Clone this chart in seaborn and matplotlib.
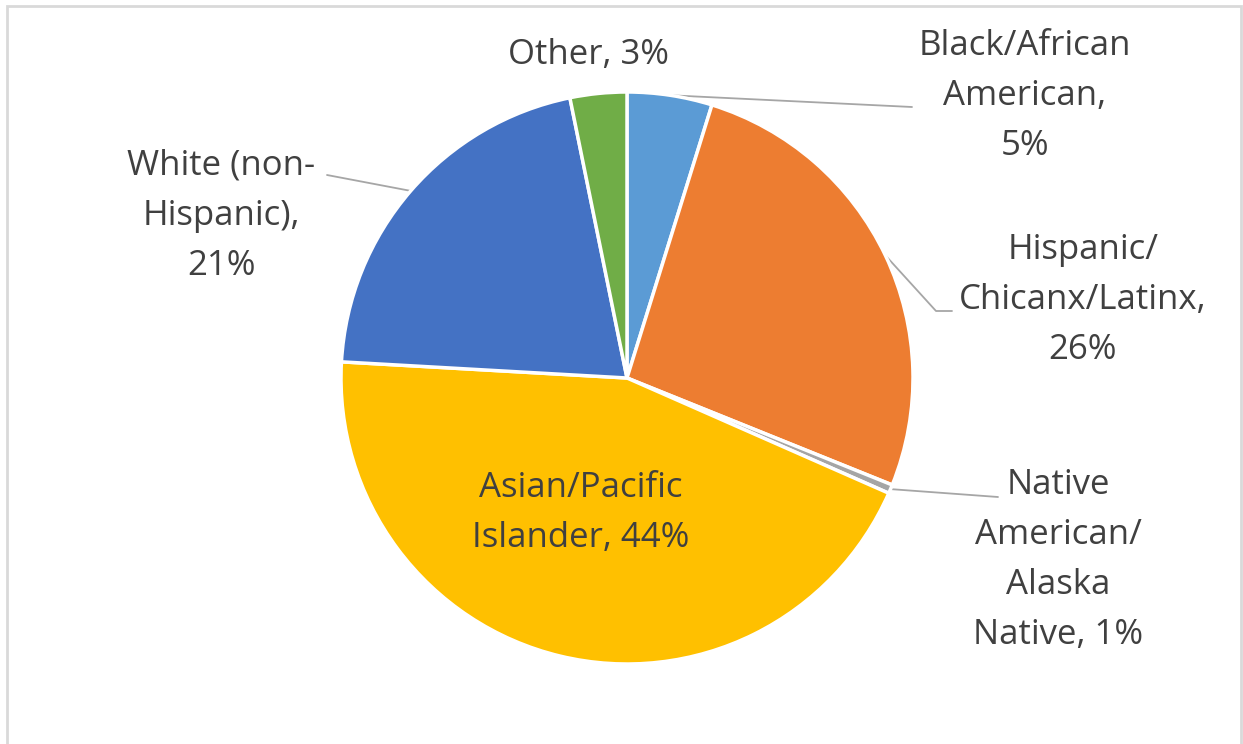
"""
Pie chart: student population by race/ethnicity.
"""

import numpy as np
import matplotlib.pyplot as plt
from matplotlib.patches import Rectangle
import seaborn as sns


# -----------------------------
# Data
# -----------------------------

GROUPS = [
    "Black/African American",
    "Hispanic/Chicanx/Latinx",
    "Native American/Alaska Native",
    "Asian/Pacific Islander",
    "White (non-Hispanic)",
    "Other",
]

SHARES = [4.8, 26.3, 0.5, 44.3, 20.9, 3.2]

LABELS = [
    "Black/African\nAmerican,\n5%",
    "Hispanic/\nChicanx/Latinx,\n26%",
    "Native\nAmerican/\nAlaska\nNative, 1%",
    "Asian/Pacific\nIslander, 44%",
    "White (non-\nHispanic),\n21%",
    "Other, 3%",
]

COLORS = ["#5B9BD5", "#ED7D31", "#A5A5A5", "#FFC000", "#4472C4", "#70AD47"]


# -----------------------------
# Style / layout (pixels)
# -----------------------------

sns.set_theme(style="white")
plt.rcParams["font.family"] = ["Open Sans", "DejaVu Sans"]

TEXT_COLOR = "#404040"
LEADER_COLOR = "#A6A6A6"

W, H = 1243, 744
CX, CY, R = 627, 378, 286

# label centre (px) and leader end points (px, None = no leader)
LABEL_POS = [
    (1025, 96), (1083, 300), (1058, 560), (581, 513), (221, 216), (589, 55),
]
LEADER_END = [
    [(912, 107)],
    [(936, 311), (952, 311)],
    [(998, 497)],
    None,
    [(327, 175)],
    None,
]


def px(x, y):
    return (x - CX) / R, (CY - y) / R


def main() -> None:
    fig = plt.figure(figsize=(W / 100, H / 100), dpi=100, facecolor="white")

    fig.patches.append(
        Rectangle(
            (7 / W, -0.1), (1241 - 7) / W, 1.1 - 6 / H,
            transform=fig.transFigure,
            fill=False, edgecolor="#D9D9D9", linewidth=2,
        )
    )

    ax = fig.add_axes([0, 0, 1, 1])

    wedges, _ = ax.pie(
        SHARES,
        colors=COLORS,
        startangle=90,
        counterclock=False,
        radius=1,
        wedgeprops=dict(edgecolor="white", linewidth=2.5),
    )

    for i, wedge in enumerate(wedges):
        lx, ly = px(*LABEL_POS[i])
        ax.text(
            lx, ly, LABELS[i],
            ha="center", va="center",
            fontsize=25, color=TEXT_COLOR,
            linespacing=1.62,
        )

        ends = LEADER_END[i]
        if ends is None:
            continue
        mid = np.deg2rad((wedge.theta1 + wedge.theta2) / 2)
        xs = [np.cos(mid)]
        ys = [np.sin(mid)]
        for ex, ey in ends:
            dx, dy = px(ex, ey)
            xs.append(dx)
            ys.append(dy)
        ax.plot(xs, ys, color=LEADER_COLOR, linewidth=1.3, zorder=0)

    ax.set_xlim(-CX / R, (W - CX) / R)
    ax.set_ylim(-(H - CY) / R, CY / R)
    ax.set_aspect("auto")
    ax.axis("off")

    fig.savefig("out.png", dpi=100, facecolor="white")
    plt.close(fig)


if __name__ == "__main__":
    main()
